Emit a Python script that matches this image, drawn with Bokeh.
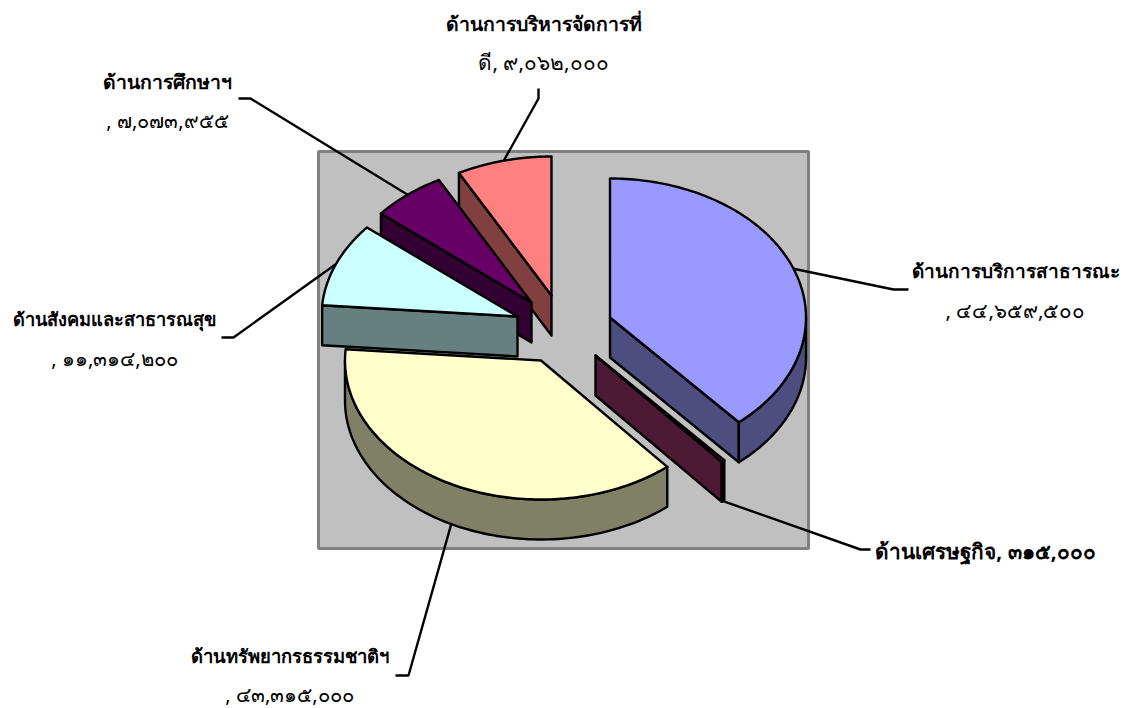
import numpy as np
from bokeh.plotting import figure
from bokeh.embed import file_html
from bokeh.resources import INLINE
from bokeh.core.properties import value as bk_value

# ---- data
categories = ["ด้านการบริการสาธารณะ", "ด้านเศรษฐกิจ", "ด้านทรัพยากรธรรมชาติฯ",
              "ด้านสังคมและสาธารณสุข", "ด้านการศึกษาฯ", "ด้านการบริหารจัดการที่ดี"]
values = [44659500, 315000, 43315000, 11314200, 7073955, 9062000]
top_colors = ["#9999FF", "#993366", "#FFFFCC", "#CCFFFF", "#660066", "#FF8080"]
side_colors = ["#4D4D80", "#4D1A33", "#808066", "#668080", "#330033", "#804040"]

# ---- layout (pixels of the page)
centers_x = [609.5, 595, 540.5, 517, 531, 551]
centers_y = [317, 355, 360, 316, 302, 295]
RX, RY, DEPTH = 196, 139, 40
FONT = "Noto Sans"
label_line1 = ["ด้านการบริการสาธารณะ", None, "ด้านทรัพยากรธรรมชาติฯ",
               "ด้านสังคมและสาธารณสุข", "ด้านการศึกษาฯ", "ด้านการบริหารจัดการที่"]
label_x = [1015, 985, 289, 114, 167, 543]
label_y1 = [270, 550, 655, 318, 81, 23]
label_y2 = [309, None, 693, 357, 120, 61]
label_size1 = [19, 20.8, 18.4, 18.2, 19.4, 19.4]
label_size2 = [20.6, None, 20.3, 20.3, 20.1, 20.8]
elbow_a = [(893, 289), (860, 549), (408, 675), (233, 337), (250, 98), (538, 98)]
elbow_b = [(908, 289), (870, 549), (395, 675), (221, 337), (238, 98), (538, 88)]

thai = str.maketrans("0123456789", "๐๑๒๓๔๕๖๗๘๙")
def money(v):
    return f"{v:,}".translate(thai)

p = figure(width=1130, height=708, x_range=(0, 1130), y_range=(708, 0),
           output_backend="svg", toolbar_location=None, min_border=0,
           outline_line_color=None)
p.axis.visible = False
p.grid.visible = False
p.background_fill_color = "white"

# plot area
p.quad(left=[318], right=[808], top=[151], bottom=[548],
       fill_color="#C0C0C0", line_color="#808080", line_width=3)

fractions = np.array(values, float) / sum(values)
ends = np.cumsum(fractions) * 2 * np.pi
starts = ends - fractions * 2 * np.pi

def pt(i, a, dy=0.0):
    return centers_x[i] + RX * np.sin(a), centers_y[i] - RY * np.cos(a) + dy

def poly(xs, ys, fill):
    p.patch(list(xs), list(ys), fill_color=fill, line_color="black", line_width=2.4,
            line_join="round")

# back to front
for i in [5, 4, 3, 2, 0, 1]:
    a0, a1 = starts[i], ends[i]
    cx, cy = centers_x[i], centers_y[i]
    if i in (0, 1):
        ex, ey = pt(i, a1)
        poly([cx, ex, ex, cx], [cy, ey, ey + DEPTH, cy + DEPTH], side_colors[i])
    if i in (3, 4, 5):
        ex, ey = pt(i, a0)
        poly([cx, ex, ex, cx], [cy, ey, ey + DEPTH, cy + DEPTH], side_colors[i])
    lo, hi = max(a0, np.pi / 2), min(a1, 3 * np.pi / 2)
    if hi > lo:
        t = np.linspace(lo, hi, 90)
        xx = cx + RX * np.sin(t)
        yy = cy - RY * np.cos(t)
        poly(np.r_[xx, xx[::-1]], np.r_[yy, yy[::-1] + DEPTH], side_colors[i])
    t = np.linspace(a0, a1, 120)
    poly(np.r_[cx, cx + RX * np.sin(t)], np.r_[cy, cy - RY * np.cos(t)], top_colors[i])

# leaders and labels
for i, cat in enumerate(categories):
    mid = (starts[i] + ends[i]) / 2
    dy = DEPTH if np.cos(mid) < 0 else 0
    sx, sy = pt(i, mid, dy)
    p.line([sx, elbow_a[i][0], elbow_b[i][0]], [sy, elbow_a[i][1], elbow_b[i][1]],
           line_color="black", line_width=2.4)
    if label_line1[i] is None:
        l1, l2 = f"{cat}, {money(values[i])}", None
    else:
        rest = cat[len(label_line1[i]):]
        l1, l2 = label_line1[i], f"{rest}, {money(values[i])}"
    p.text([label_x[i]], [label_y1[i]], text=[l1], text_align="center", text_baseline="middle",
           text_font=bk_value(FONT), text_font_size=f"{label_size1[i]}px", text_font_style="bold", text_color="black")
    if l2:
        p.text([label_x[i]], [label_y2[i]], text=[l2], text_align="center", text_baseline="middle",
               text_font=bk_value(FONT), text_font_size=f"{label_size2[i]}px", text_font_style="normal", text_color="black")

open("out.html", "w").write(file_html(p, INLINE))
